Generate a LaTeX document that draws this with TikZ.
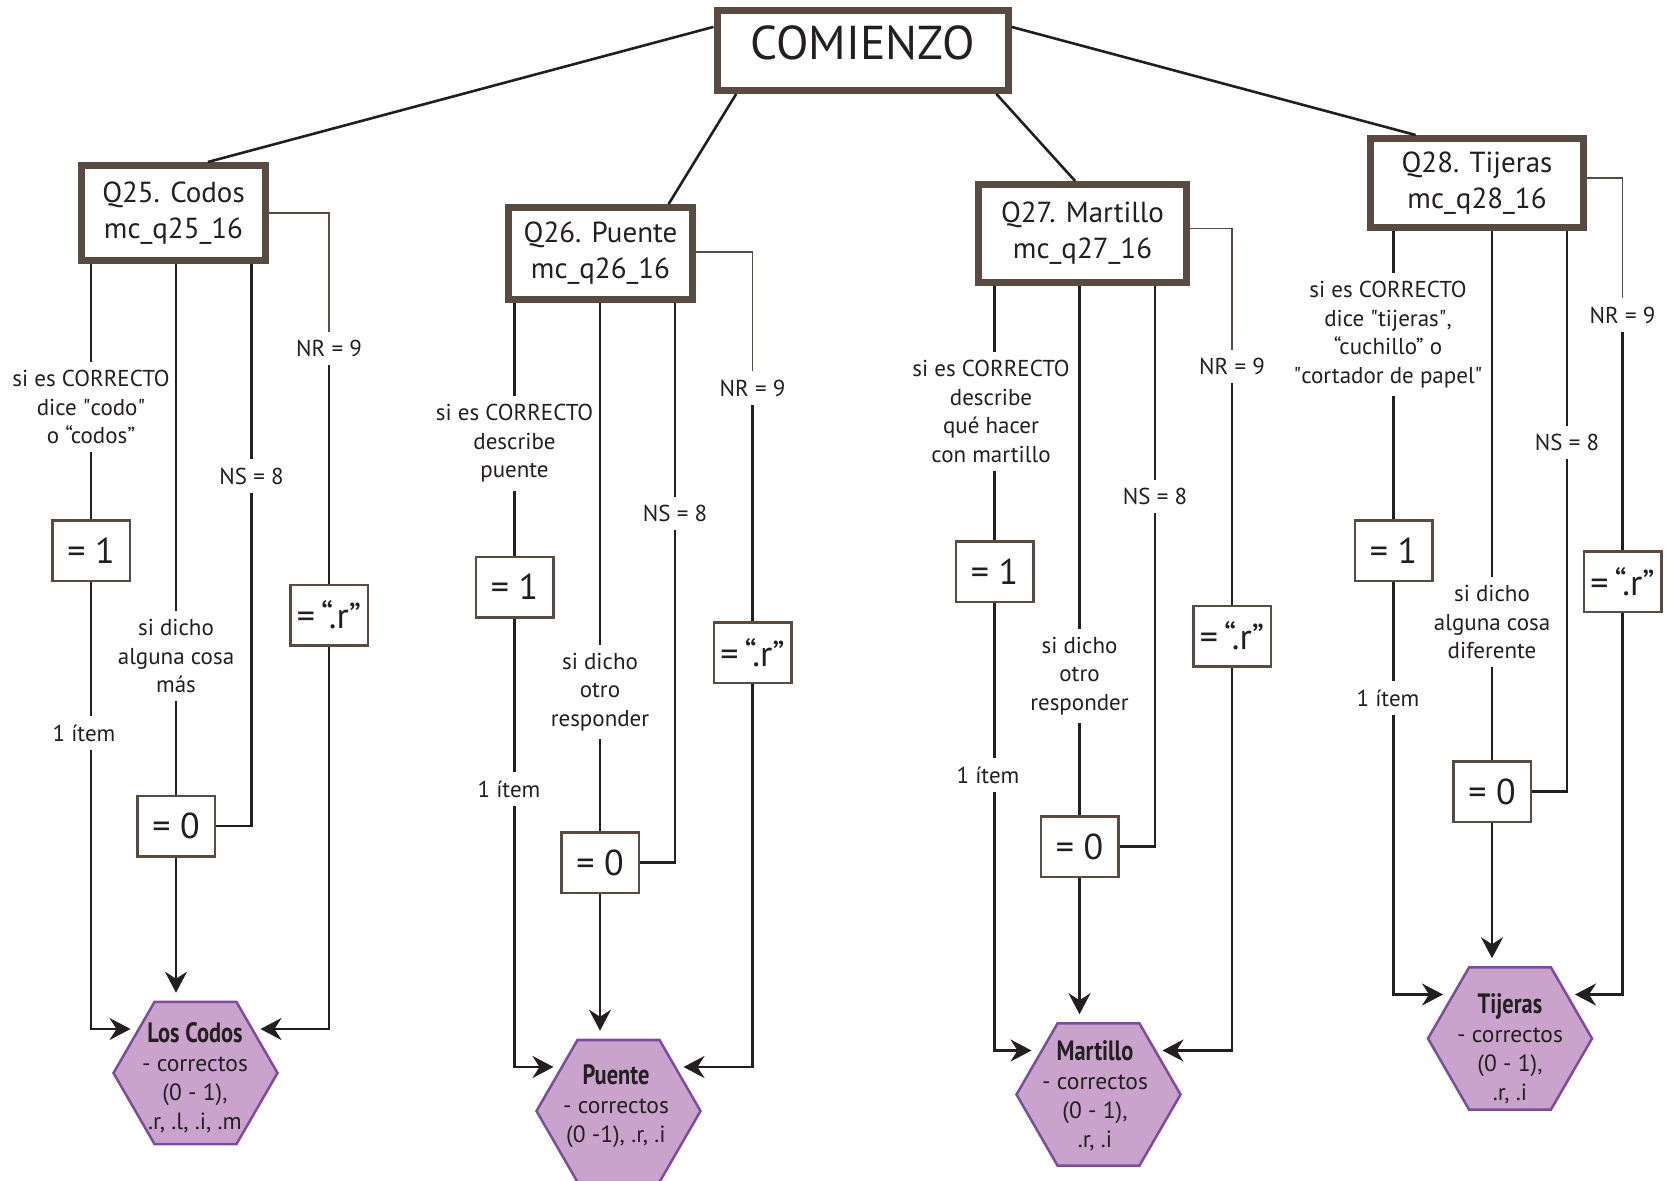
\documentclass[tikz,border=0pt]{standalone}
\usepackage{fontspec}
\usepackage{graphicx}
\setmainfont{PT Sans}
\usetikzlibrary{shapes.geometric,arrows.meta,calc}
\definecolor{brn}{RGB}{89,74,66}
\definecolor{ink}{RGB}{35,31,32}
\definecolor{lav}{RGB}{201,163,204}
\definecolor{purp}{RGB}{125,76,158}
\newcommand{\hexttl}[1]{{\fontsize{28}{29}\selectfont\bfseries\scalebox{0.8}[1]{#1}}}
\newcommand{\sq}{\XeTeXglyph\XeTeXcharglyph"0022\relax}
\begin{document}
\begin{tikzpicture}[x=1pt,y=-1pt,
  every node/.style={text=ink},
  qbox/.style={draw=brn, line width=7pt, fill=white, align=center, font=\fontsize{29}{36}\selectfont, inner sep=0pt},
  vbox/.style={draw=brn, line width=2.5pt, fill=white, minimum width=77.5pt, minimum height=60.5pt, inner sep=0pt, font=\fontsize{36}{40}\selectfont},
  lbl/.style={align=center, font=\fontsize{23}{28.5}\selectfont, inner xsep=0pt, inner ysep=8pt},
  hexa/.style={regular polygon, regular polygon sides=6, minimum size=164pt, inner sep=0pt, draw=purp, line width=2.5pt, fill=lav},
  hext/.style={align=center, font=\fontsize{23.5}{29}\selectfont, inner sep=0pt},
  conn/.style={draw=ink, line width=2.6pt},
  nrline/.style={draw=brn, line width=1.7pt},
  arr/.style={conn, -{Stealth[length=21pt,width=22pt,inset=7pt]}},
]
\fill[white] (0,0) rectangle (1669,1180);
\useasboundingbox (0,0) rectangle (1669,1180);

% ---------- top ----------
\node[qbox, minimum width=291pt, minimum height=80pt, font=\fontsize{47.5}{50}\selectfont, text height=33pt, text depth=15pt] (start) at (862.5,50.5) {COMIENZO};

\node[qbox, minimum width=184pt, minimum height=95pt] (q25) at (173.5,213) {Q25. Codos\\mc\_q25\_16};
\node[qbox, minimum width=184pt, minimum height=92pt] (q26) at (600.5,253.5) {Q26. Puente\\mc\_q26\_16};
\node[qbox, minimum width=208pt, minimum height=98pt] (q27) at (1082.5,233.5) {Q27. Martillo\\mc\_q27\_16};
\node[qbox, minimum width=213pt, minimum height=89pt] (q28) at (1477,183) {Q28. Tijeras\\mc\_q28\_16};

\draw[conn] (start.171) -- (q25.56);
\draw[conn] (start.199) -- (q26.36);
\draw[conn] (start.342) -- (q27.98);
\draw[conn] (start.9) -- (q28.142);

% ---------- Q25 ----------
\node[lbl] (c25) at (91,407) {si es CORRECTO\\dice \sq codo\sq\\o “codos”};
\node[vbox] (one25) at (91,550.5) {= 1};
\node[lbl] (it25) at (84,733) {1 ítem};
\node[lbl] (o25) at (176,656) {si dicho\\alguna cosa\\más};
\node[vbox] (zero25) at (176,826) {= 0};
\node[lbl] (ns25) at (251.5,476) {NS = 8};
\node[lbl] (nr25) at (329,348.5) {NR = 9};
\node[vbox] (r25) at (329,615) {=\,“.r”};
\node[hexa] (h25) at (195.5,1073) {};
\node[hext] (h25t) at (195,1078) {\hexttl{Los Codos}\\- correctos\\(0 - 1),\\.r, .l, .i, .m};
\coordinate (h25l) at ($(h25.center)+(-65,-44)$);
\coordinate (h25r) at ($(h25.center)+(65,-44)$);

\draw[conn] (q25.south -| one25.north) -- (c25.north -| one25.north);
\draw[conn] (c25.south -| one25.north) -- (one25.north);
\draw[conn] (one25.south) -- (it25.north -| one25.south);
\draw[arr] (it25.south -| one25.south) |- (h25l);
\draw[conn] (q25.south -| zero25.north) -- (o25.north -| zero25.north);
\draw[conn] (o25.south -| zero25.north) -- (zero25.north);
\draw[arr, shorten >=8pt] (zero25.south) -- (zero25.south |- h25.north);
\draw[conn] (q25.south -| ns25.north) -- (ns25.north);
\draw[conn] (ns25.south) |- (zero25.east);
\draw[nrline] (q25.east) -| (nr25.north);
\draw[conn] (nr25.south) -- (r25.north);
\draw[arr] (r25.south) |- (h25r);

% ---------- Q26 ----------
\node[lbl] (c26) at (514.5,443.5) {si es CORRECTO\\describe\\puente};
\node[vbox] (one26) at (514.5,587) {= 1};
\node[lbl] (it26) at (509,789) {1 ítem};
\node[lbl] (o26) at (600,692) {si dicho\\otro\\responder};
\node[vbox] (zero26) at (600,862.5) {= 0};
\node[lbl] (ns26) at (675,513.5) {NS = 8};
\node[lbl] (nr26) at (752.5,388) {NR = 9};
\node[vbox] (r26) at (752.5,652.5) {=\,“.r”};
\node[hexa] (h26) at (618.5,1111) {};
\node[hext] (h26t) at (616,1106) {\hexttl{Puente}\\- correctos\\(0 -1), .r, .i};
\coordinate (h26l) at ($(h26.center)+(-65,-44)$);
\coordinate (h26r) at ($(h26.center)+(65,-44)$);

\draw[conn] (q26.south -| one26.north) -- (c26.north -| one26.north);
\draw[conn] (c26.south -| one26.north) -- (one26.north);
\draw[conn] (one26.south) -- (it26.north -| one26.south);
\draw[arr] (it26.south -| one26.south) |- (h26l);
\draw[conn] (q26.south -| zero26.north) -- (o26.north -| zero26.north);
\draw[conn] (o26.south -| zero26.north) -- (zero26.north);
\draw[arr, shorten >=8pt] (zero26.south) -- (zero26.south |- h26.north);
\draw[conn] (q26.south -| ns26.north) -- (ns26.north);
\draw[conn] (ns26.south) |- (zero26.east);
\draw[nrline] ([yshift=1.5pt]q26.east) -| (nr26.north);
\draw[conn] (nr26.south) -- (r26.north);
\draw[arr] (r26.south) |- (h26r);

% ---------- Q27 ----------
\node[lbl] (c27) at (991,411.5) {si es CORRECTO\\describe\\qué hacer\\con martillo};
\node[vbox] (one27) at (994.5,571.5) {= 1};
\node[lbl] (it27) at (988,775) {1 ítem};
\node[lbl] (o27) at (1079.5,676) {si dicho\\otro\\responder};
\node[vbox] (zero27) at (1079.5,846.5) {= 0};
\node[lbl] (ns27) at (1155,496.5) {NS = 8};
\node[lbl] (nr27) at (1232,366.5) {NR = 9};
\node[vbox] (r27) at (1232,636) {=\,“.r”};
\node[hexa] (h27) at (1098.5,1094.5) {};
\node[hext] (h27t) at (1095,1096) {\hexttl{Martillo}\\- correctos\\(0 - 1),\\.r, .i};
\coordinate (h27l) at ($(h27.center)+(-67,-44)$);
\coordinate (h27r) at ($(h27.center)+(64,-44)$);

\draw[conn] (q27.south -| one27.north) -- (c27.north -| one27.north);
\draw[conn] (c27.south -| one27.north) -- (one27.north);
\draw[conn] (one27.south) -- (it27.north -| one27.south);
\draw[arr] (it27.south -| one27.south) |- (h27l);
\draw[conn] (q27.south -| zero27.north) -- (o27.north -| zero27.north);
\draw[conn] (o27.south -| zero27.north) -- (zero27.north);
\draw[arr, shorten >=8pt] (zero27.south) -- (zero27.south |- h27.north);
\draw[conn] (q27.south -| ns27.north) -- (ns27.north);
\draw[conn] (ns27.south) |- (zero27.east);
\draw[nrline] ([yshift=5pt]q27.east) -| (nr27.north);
\draw[conn] (nr27.south) -- (r27.north);
\draw[arr] (r27.south) |- (h27r);

% ---------- Q28 ----------
\node[lbl] (c28) at (1388,334.5) {si es CORRECTO\\dice \sq tijeras\sq,\\“cuchillo” o\\\sq cortador de papel\sq};
\node[vbox] (one28) at (1393.5,550.5) {= 1};
\node[lbl] (it28) at (1388,698) {1 ítem};
\node[lbl] (o28) at (1492,622) {si dicho\\alguna cosa\\diferente};
\node[vbox] (zero28) at (1492,791.5) {= 0};
\node[lbl] (ns28) at (1567,442.5) {NS = 8};
\node[lbl] (nr28) at (1622.5,315) {NR = 9};
\node[vbox] (r28) at (1622.5,581.5) {=\,“.r”};
\node[hexa] (h28) at (1510,1038.5) {};
\node[hext] (h28t) at (1510,1048.5) {\hexttl{Tijeras}\\- correctos\\(0 - 1),\\.r, .i};
\coordinate (h28l) at ($(h28.center)+(-67,-44)$);
\coordinate (h28r) at ($(h28.center)+(65,-44)$);

\draw[conn] (q28.south -| one28.north) -- (c28.north -| one28.north);
\draw[conn] (c28.south -| one28.north) -- (one28.north);
\draw[conn] (one28.south) -- (it28.north -| one28.south);
\draw[arr] (it28.south -| one28.south) |- (h28l);
\draw[conn] (q28.south -| zero28.north) -- (o28.north -| zero28.north);
\draw[conn] (o28.south -| zero28.north) -- (zero28.north);
\draw[arr, shorten >=8pt] (zero28.south) -- (zero28.south |- h28.north);
\draw[conn] (q28.south -| ns28.north) -- (ns28.north);
\draw[conn] (ns28.south) |- (zero28.east);
\draw[nrline] ([yshift=5pt]q28.east) -| (nr28.north);
\draw[conn] (nr28.south) -- (r28.north);
\draw[arr] (r28.south) |- (h28r);
\end{tikzpicture}
\end{document}
